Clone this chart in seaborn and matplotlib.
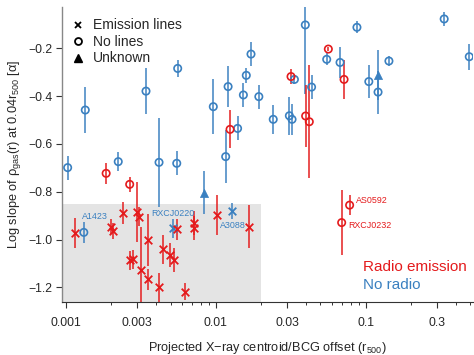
import numpy as np
import pandas as pd
import matplotlib
matplotlib.use("Agg")
import matplotlib.pyplot as plt
from matplotlib.lines import Line2D
from matplotlib.ticker import FixedLocator, FixedFormatter
import seaborn as sns

# ---------------- data ----------------
# No radio, no lines (blue circles)
nr_nl_x = [0.00103, 0.00132, 0.00135, 0.00224, 0.00343, 0.00419, 0.00558, 0.0055,
           0.00964, 0.0121, 0.01166, 0.0140, 0.0153, 0.0160, 0.0172, 0.0194,
           0.0242, 0.0310, 0.0323, 0.0335, 0.0396, 0.0436, 0.055, 0.0675,
           0.0875, 0.105, 0.121, 0.143, 0.334, 0.491]
nr_nl_y = [-0.699, -0.970, -0.458, -0.674, -0.379, -0.677, -0.284, -0.681,
           -0.444, -0.360, -0.653, -0.535, -0.395, -0.313, -0.224, -0.402,
           -0.497, -0.482, -0.497, -0.330, -0.102, -0.362, -0.246, -0.259,
           -0.112, -0.339, -0.383, -0.253, -0.077, -0.235]
nr_nl_e = [0.05, 0.045, 0.095, 0.04, 0.097, 0.185, 0.035, 0.05,
           0.115, 0.085, 0.11, 0.05, 0.05, 0.03, 0.05, 0.05,
           0.06, 0.08, 0.065, 0.02, 0.29, 0.05, 0.025, 0.065,
           0.025, 0.07, 0.09, 0.02, 0.028, 0.055]

# No radio, emission lines (blue crosses)
nr_em_x = [0.00522, 0.0129]
nr_em_y = [-0.953, -0.881]
nr_em_e = [0.04, 0.035]

# No radio, unknown (blue triangles)
nr_un_x = [0.0083, 0.121]
nr_un_y = [-0.804, -0.31]
nr_un_e = [0.09, 0.105]

# Radio, no lines (red circles)
r_nl_x = [0.00186, 0.00267, 0.01247, 0.0318, 0.0398, 0.0421, 0.0564, 0.0718, 0.0692, 0.0782]
r_nl_y = [-0.723, -0.769, -0.539, -0.318, -0.483, -0.507, -0.203, -0.330, -0.929, -0.856]
r_nl_e = [0.045, 0.03, 0.08, 0.03, 0.13, 0.237, 0.01, 0.08, 0.135, 0.042]

# Radio, emission lines (red crosses)
r_em_x = [0.00115, 0.00200, 0.00208, 0.00242, 0.00269, 0.00282, 0.0030, 0.0031,
          0.00316, 0.00352, 0.00352, 0.00419, 0.00448, 0.00495, 0.0053, 0.00555,
          0.00625, 0.00718, 0.00718, 0.01016, 0.01667]
r_em_y = [-0.971, -0.946, -0.964, -0.888, -1.086, -1.083, -0.884, -0.905,
          -1.128, -1.002, -1.167, -1.200, -1.041, -1.065, -1.086, -0.957,
          -1.218, -0.932, -0.953, -0.897, -0.946]
r_em_e = [0.063, 0.03, 0.035, 0.045, 0.04, 0.04, 0.125, 0.04,
          0.18, 0.11, 0.045, 0.06, 0.06, 0.05, 0.05, 0.045,
          0.035, 0.05, 0.05, 0.085, 0.09]

# labelled clusters
label_names = ["A1423", "RXCJ0220", "A3088", "AS0592", "RXCJ0232"]
label_x = [0.00132, 0.00522, 0.0129, 0.0782, 0.0692]
label_y = [-0.970, -0.953, -0.881, -0.856, -0.929]
label_radio = [False, False, False, True, True]

x_tick_vals = [0.001, 0.003, 0.01, 0.03, 0.1, 0.3]
x_tick_labels = ["0.001", "0.003", "0.01", "0.03", "0.1", "0.3"]
y_tick_vals = [-1.2, -1.0, -0.8, -0.6, -0.4, -0.2]

# grey region (offset limit, slope limit)
box_x_max = 0.02
box_y_max = -0.85

RED = "#e41a1c"
BLUE = "#3a80c0"

# ---------------- style ----------------
sns.set_style("ticks")
plt.rcParams["font.family"] = ["Liberation Sans", "DejaVu Sans"]
plt.rcParams["mathtext.fontset"] = "custom"
plt.rcParams["mathtext.rm"] = "Liberation Sans"
plt.rcParams["mathtext.it"] = "Liberation Sans:italic"

fig = plt.figure(figsize=(4.74, 3.55), dpi=100)
ax = fig.add_axes([61.7 / 474, 1 - 301.7 / 355, (473 - 61.7) / 474, (301.7 - 7) / 355])

ax.set_xscale("log")
ax.set_xlim(0.00094, 0.52)
ax.set_ylim(-1.26, -0.027)

# grey box
ax.axvspan(0.00094, box_x_max, ymin=0, ymax=(box_y_max + 1.26) / (1.26 - 0.027),
           color="#e4e4e4", lw=0, zorder=0)

groups = [
    (nr_nl_x, nr_nl_y, nr_nl_e, BLUE, "o"),
    (nr_em_x, nr_em_y, nr_em_e, BLUE, "x"),
    (nr_un_x, nr_un_y, nr_un_e, BLUE, "^"),
    (r_nl_x, r_nl_y, r_nl_e, RED, "o"),
    (r_em_x, r_em_y, r_em_e, RED, "x"),
]

for gx, gy, ge, col, mk in groups:
    ax.errorbar(gx, gy, yerr=ge, fmt="none", ecolor=col, elinewidth=1.2,
                capsize=0, zorder=2, alpha=0.9)
for gx, gy, ge, col, mk in groups:
    df = pd.DataFrame({"x": gx, "y": gy})
    if mk == "o":
        sns.scatterplot(data=df, x="x", y="y", ax=ax, marker="o", s=28,
                        color=col, facecolor="none", edgecolor=col,
                        linewidth=1.2, legend=False, zorder=3)
    elif mk == "x":
        sns.scatterplot(data=df, x="x", y="y", ax=ax, marker="x", s=30,
                        color=col, linewidth=1.3, legend=False, zorder=3)
    else:
        sns.scatterplot(data=df, x="x", y="y", ax=ax, marker="^", s=34,
                        color=col, edgecolor=col, linewidth=0.5,
                        legend=False, zorder=3)

# labels
offsets = [(-1.3, 11.7), (-15.6, 11.0), (-8.9, -10.0), (4.5, 3.7), (4.5, -1.8)]
for name, lx, ly, rad, off in zip(label_names, label_x, label_y, label_radio, offsets):
    ax.annotate(name, (lx, ly), xytext=off, textcoords="offset points",
                ha="left", va="center", fontsize=6.4,
                color=RED if rad else BLUE, zorder=4)

# axes formatting
ax.xaxis.set_major_locator(FixedLocator(x_tick_vals))
ax.xaxis.set_major_formatter(FixedFormatter(x_tick_labels))
minor = [m * 10.0 ** e for e in (-3, -2, -1) for m in range(1, 10)]
minor = [v for v in minor if v not in x_tick_vals and v < 0.52]
ax.xaxis.set_minor_locator(FixedLocator(minor))
ax.xaxis.set_minor_formatter(FixedFormatter([""] * len(minor)))
ax.set_yticks(y_tick_vals)
ax.set_yticklabels(["\u2212%.1f" % abs(v) for v in y_tick_vals])

ax.tick_params(axis="both", which="major", labelsize=8.8, length=4, width=0.8,
               color="#333333", pad=2.5)
ax.tick_params(axis="x", which="minor", length=2.5, width=0.7, color="#333333")
ax.tick_params(axis="x", pad=7)

for s in ["top", "right"]:
    ax.spines[s].set_visible(False)
ax.spines["left"].set_color("#888888")
ax.spines["left"].set_linewidth(1.0)
ax.spines["bottom"].set_color("#333333")
ax.spines["bottom"].set_linewidth(0.8)

ax.set_xlabel("Projected X\u2212ray centroid/BCG offset (r$_{500}$)", fontsize=9.2, labelpad=8)
ax.set_ylabel("Log slope of \u03c1$_{\\mathrm{gas}}$(r) at 0.04r$_{500}$ [\u03b1]", fontsize=9.2,
              labelpad=4)

# legend (marker shape)
handles = [
    Line2D([], [], ls="none", marker="x", color="black", markersize=5, mew=1.3),
    Line2D([], [], ls="none", marker="o", color="black", mfc="none", markersize=5, mew=1.3),
    Line2D([], [], ls="none", marker="^", color="black", markersize=5.5),
]
ax.legend(handles, ["Emission lines", "No lines", "Unknown"], loc="upper left",
          bbox_to_anchor=(0.005, 0.985), frameon=False, fontsize=10,
          handlelength=1.0, handletextpad=0.6, labelspacing=0.18,
          borderaxespad=0.1)

# colour key
ax.text(0.733, 0.117, "Radio emission", transform=ax.transAxes, color=RED,
        fontsize=11, ha="left", va="center")
ax.text(0.733, 0.056, "No radio", transform=ax.transAxes, color=BLUE,
        fontsize=11, ha="left", va="center")

fig.savefig("out.png", dpi=100)
